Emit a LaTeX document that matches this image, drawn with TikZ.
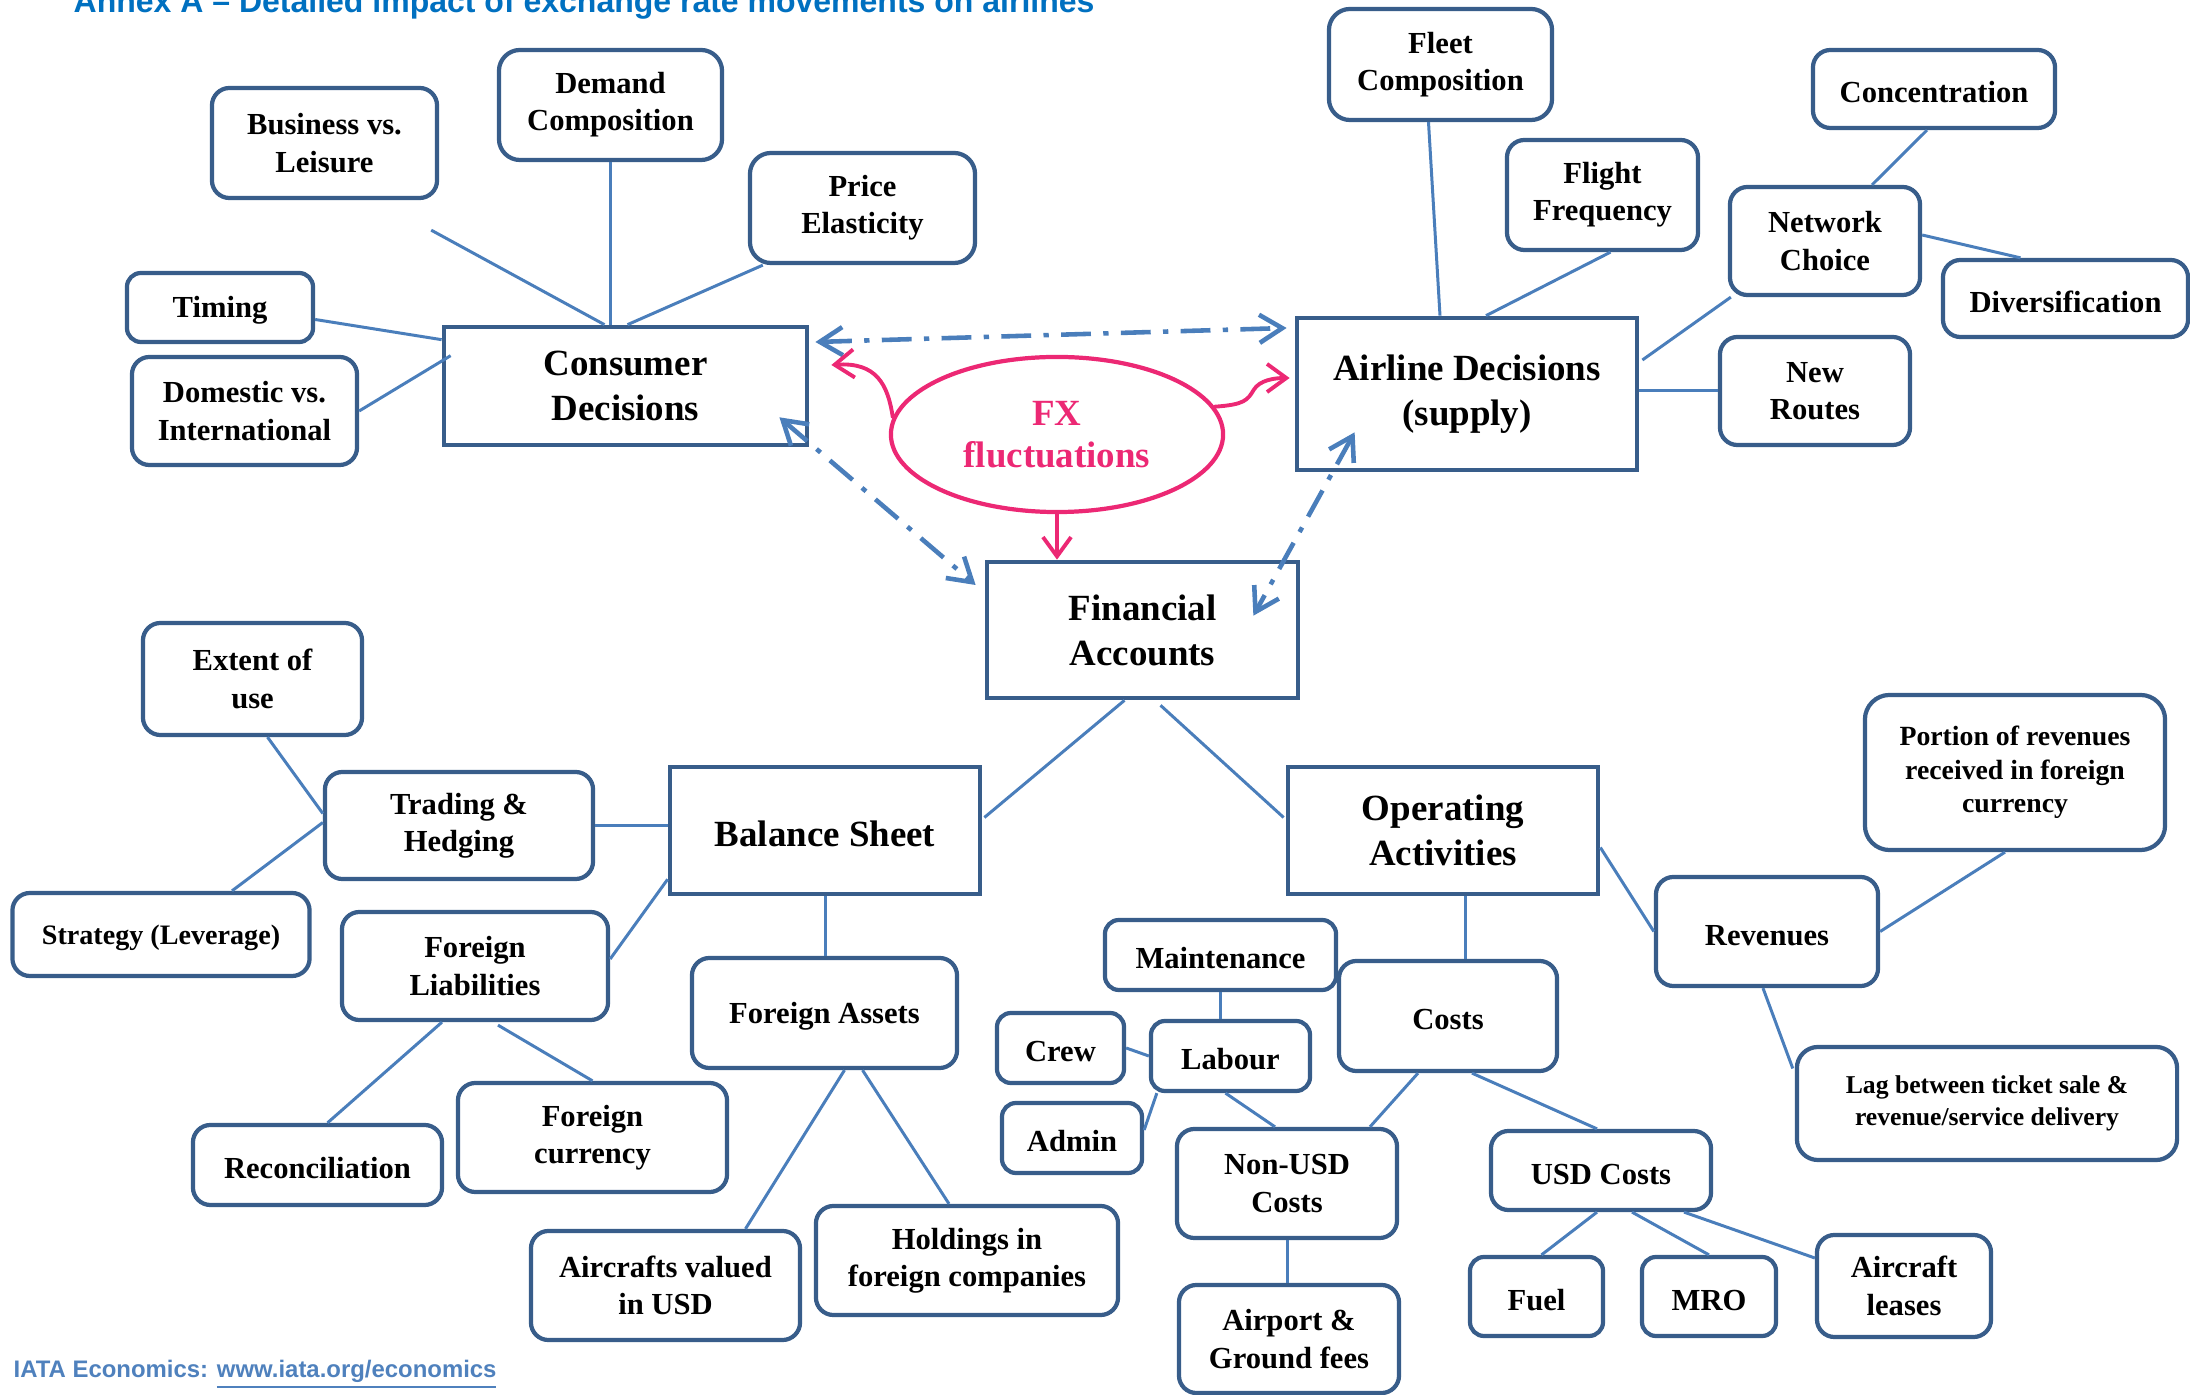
\documentclass[tikz,border=0pt]{standalone}
\usepackage{fontspec}
\setmainfont{Liberation Serif}
\newfontfamily\arialf{Liberation Sans}
\usetikzlibrary{arrows.meta,shapes.geometric,calc}
\definecolor{boxblue}{RGB}{56,93,138}
\definecolor{lineblue}{RGB}{74,126,187}
\definecolor{fxpink}{RGB}{236,40,116}
\definecolor{titleblue}{RGB}{0,112,192}
\definecolor{footblue}{RGB}{79,129,189}
\begin{document}
\begin{tikzpicture}[x=0.01cm,y=-0.01cm,
  sb/.style={draw=boxblue, line width=1.2pt, rounded corners=5pt, fill=white, align=center, inner sep=0pt, font=\fontsize{8.7}{10.6}\selectfont\bfseries, execute at begin node={\rule{0pt}{0.9em}}},
  bb/.style={draw=boxblue, line width=1.3pt, fill=white, align=center, inner sep=0pt, font=\fontsize{10.5}{12.8}\selectfont\bfseries, execute at begin node={\rule{0pt}{0.85em}}},
  conn/.style={draw=lineblue, line width=0.85pt},
  dda/.style={draw=lineblue, line width=1.3pt, dash pattern=on 8.5pt off 3.5pt on 1.5pt off 3.5pt, {Straight Barb[length=6.5pt,width=8pt]}-{Straight Barb[length=6.5pt,width=8pt]}},
  pa/.style={draw=fxpink, line width=1.1pt, line cap=round, -{Straight Barb[length=5.5pt,width=8pt]}}
]
\useasboundingbox (0,0) rectangle (2190,1395);

% title and footer
\node[anchor=base west, inner sep=0pt, text=titleblue, font=\fontsize{9.1}{11}\selectfont\arialf\bfseries] (title) at (73,13) {Annex A – Detailed impact of exchange rate movements on airlines};
\node[anchor=base west, inner sep=0pt, text=footblue, font=\fontsize{6.8}{8}\selectfont\arialf\bfseries] (foot) at (13,1377) {IATA Economics: \underline{www.iata.org/economics}};

% consumer side
\node[sb, minimum width=2.25cm, minimum height=1.10cm] (bus) at (324.5,143) {Business vs.\\Leisure};
\node[sb, minimum width=2.23cm, minimum height=1.10cm, rounded corners=6pt] (dem) at (610.5,105) {Demand\\Composition};
\node[sb, minimum width=2.25cm, minimum height=1.10cm, rounded corners=6pt] (price) at (862.5,208) {Price\\Elasticity};
\node[sb, minimum width=1.86cm, minimum height=0.69cm, rounded corners=4pt] (tim) at (220,307.5) {Timing};
\node[sb, minimum width=2.25cm, minimum height=1.08cm] (dom) at (244.5,411) {Domestic vs.\\International};
\node[bb, minimum width=3.63cm, minimum height=1.18cm] (cons) at (625.5,386) {Consumer\\Decisions};

% airline side
\node[sb, minimum width=2.23cm, minimum height=1.11cm, rounded corners=6pt] (fleet) at (1440.5,64.5) {Fleet\\Composition};
\node[sb, minimum width=1.91cm, minimum height=1.10cm] (flight) at (1602.5,195) {Flight\\Frequency};
\node[sb, minimum width=2.42cm, minimum height=0.78cm] (conc) at (1934,89) {Concentration};
\node[sb, minimum width=1.90cm, minimum height=1.08cm] (net) at (1825,241) {Network\\Choice};
\node[sb, minimum width=2.45cm, minimum height=0.77cm] (div) at (2065.5,298.5) {Diversification};
\node[sb, minimum width=1.90cm, minimum height=1.08cm] (routes) at (1815,391) {New\\Routes};
\node[bb, minimum width=3.40cm, minimum height=1.52cm] (air) at (1467,394) {Airline Decisions\\(supply)};

% FX and financial accounts
\node[ellipse, draw=fxpink, line width=1.2pt, minimum width=3.32cm, minimum height=1.55cm, inner sep=0pt, align=center, text=fxpink, font=\fontsize{10.5}{11.9}\selectfont\bfseries] (fx) at (1057,434.5) {FX\\fluctuations};
\node[bb, minimum width=3.11cm, minimum height=1.36cm] (fin) at (1142.5,630) {Financial\\Accounts};

% balance sheet side
\node[sb, minimum width=2.19cm, minimum height=1.12cm] (ext) at (252.5,679) {Extent of\\use};
\node[sb, minimum width=2.68cm, minimum height=1.07cm] (trade) at (459,825.5) {Trading \&\\Hedging};
\node[sb, minimum width=2.97cm, minimum height=0.83cm, font=\fontsize{8}{10}\selectfont\bfseries] (strat) at (161,934.5) {Strategy (Leverage)};
\node[sb, minimum width=2.66cm, minimum height=1.08cm] (fl) at (475,966) {Foreign\\Liabilities};
\node[bb, minimum width=3.10cm, minimum height=1.27cm] (bal) at (825,830.5) {Balance Sheet};
\node[sb, minimum width=2.65cm, minimum height=1.10cm] (fa) at (824.5,1013) {Foreign Assets};
\node[sb, minimum width=2.49cm, minimum height=0.80cm] (rec) at (317.5,1165) {Reconciliation};
\node[sb, minimum width=2.69cm, minimum height=1.09cm] (fc) at (592.5,1137.5) {Foreign\\currency};
\node[sb, minimum width=2.69cm, minimum height=1.09cm] (acv) at (665.5,1285.5) {Aircrafts valued\\in USD};
\node[sb, minimum width=3.02cm, minimum height=1.09cm] (hold) at (967,1260.5) {Holdings in\\foreign companies};

% operating side
\node[bb, minimum width=3.10cm, minimum height=1.27cm] (op) at (1443,830.5) {Operating\\Activities};
\node[sb, minimum width=2.31cm, minimum height=0.70cm, rounded corners=4pt] (maint) at (1220.5,955) {Maintenance};
\node[sb, minimum width=2.18cm, minimum height=1.10cm] (costs) at (1448,1016) {Costs};
\node[sb, minimum width=1.27cm, minimum height=0.70cm, rounded corners=4pt] (crew) at (1060.5,1048) {Crew};
\node[sb, minimum width=1.59cm, minimum height=0.70cm, rounded corners=4pt] (lab) at (1230.5,1056) {Labour};
\node[sb, minimum width=1.40cm, minimum height=0.70cm, rounded corners=4pt] (admin) at (1072,1138) {Admin};
\node[sb, minimum width=2.20cm, minimum height=1.09cm] (nonusd) at (1287,1183.5) {Non-USD\\Costs};
\node[sb, minimum width=2.20cm, minimum height=0.79cm] (usd) at (1601,1170.5) {USD Costs};
\node[sb, minimum width=2.20cm, minimum height=1.08cm] (airport) at (1289,1339) {Airport \&\\Ground fees};
\node[sb, minimum width=1.33cm, minimum height=0.79cm, rounded corners=4pt] (fuel) at (1536.5,1296.5) {Fuel};
\node[sb, minimum width=1.34cm, minimum height=0.79cm, rounded corners=4pt] (mro) at (1709,1296.5) {MRO};
\node[sb, minimum width=1.74cm, minimum height=1.02cm] (lease) at (1904,1286) {Aircraft\\leases};
\node[sb, minimum width=2.22cm, minimum height=1.09cm] (rev) at (1767,931.5) {Revenues};
\node[sb, minimum width=3.00cm, minimum height=1.55cm, rounded corners=7pt, font=\fontsize{7.9}{9.5}\selectfont\bfseries] (port) at (2015,772.5) {Portion of revenues\\received in foreign\\currency};
\node[sb, minimum width=3.80cm, minimum height=1.13cm, rounded corners=6pt, font=\fontsize{7.3}{9}\selectfont\bfseries] (lag) at (1987,1103.5) {Lag between ticket sale \&\\revenue/service delivery};

% connectors: consumer
\coordinate (busend) at ($(bus.south east)+(-8,30)$);
\draw[conn] (dem.south) -- (dem.south |- cons.north);
\draw[conn] ($(price.south west)+(15,0)$) -- ($(cons.north)+(2,0)$);
\draw[conn] (busend) -- ($(cons.north)+(-21,0)$);
\draw[conn] ($(tim.east)+(0,12)$) -- ($(cons.north west)+(0,15)$);
\draw[conn] (dom.east) -- ($(cons.north west)+(9,31)$);

% connectors: airline
\draw[conn] ($(fleet.south)+(-12,0)$) -- ($(air.north)+(-27,0)$);
\draw[conn] ($(flight.south)+(8,0)$) -- ($(air.north)+(19,0)$);
\draw[conn] ($(conc.south)+(-7,0)$) -- ($(net.north)+(47,0)$);
\draw[conn] ($(net.east)+(0,-6)$) -- ($(div.north)+(-45,0)$);
\draw[conn] ($(net.south west)+(3,0)$) -- ($(air.east)+(3,-34)$);
\draw[conn] (routes.west) -- (routes.west -| air.east);

% connectors: financial
\draw[conn] ($(fin.south)+(-18,0)$) -- ($(bal.east)+(2,-13)$);
\draw[conn] ($(fin.south)+(18,5)$) -- ($(op.west)+(-2,-13)$);

% connectors: balance sheet
\draw[conn] (trade.east) -- (trade.east -| bal.west);
\draw[conn] ($(fl.east)+(0,-7)$) -- ($(bal.south west)+(0,-17)$);
\draw[conn] ($(ext.south)+(15,0)$) -- ($(trade.west)+(0,-12)$);
\draw[conn] ($(strat.north)+(71,0)$) -- ($(trade.west)+(0,-3)$);
\draw[conn] (bal.south) -- (bal.south |- fa.north);
\draw[conn] ($(fl.south)+(-33,0)$) -- ($(rec.north)+(10,0)$);
\draw[conn] ($(fl.south)+(23,3)$) -- (fc.north);
\draw[conn] ($(fa.south)+(20,0)$) -- ($(acv.north)+(80,0)$);
\draw[conn] ($(fa.south)+(38,0)$) -- ($(hold.north)+(-18,0)$);

% connectors: operating
\draw[conn] ($(op.south)+(22,0)$) -- ($(costs.north)+(17,0)$);
\draw[conn] ($(op.east)+(0,17)$) -- (rev.west);
\draw[conn] (rev.east) -- ($(port.south)+(-10,0)$);
\draw[conn] ($(rev.south)+(-4,0)$) -- ($(lag.west)+(-2,-35)$);
\draw[conn] (maint.south) -- (maint.south |- lab.north);
\draw[conn] (crew.east) -- (lab.west);
\draw[conn] ($(admin.east)+(0,-8)$) -- ($(lab.south west)+(8,0)$);
\draw[conn] ($(lab.south)+(-5,0)$) -- ($(nonusd.north)+(-12,0)$);
\draw[conn] ($(costs.south)+(-30,0)$) -- ($(nonusd.north)+(83,0)$);
\draw[conn] ($(costs.south)+(24,0)$) -- ($(usd.north)+(-4,0)$);
\draw[conn] (nonusd.south) -- (nonusd.south |- airport.north);
\draw[conn] ($(usd.south)+(-4,0)$) -- ($(fuel.north)+(5,0)$);
\draw[conn] ($(usd.south)+(31,0)$) -- (mro.north);
\draw[conn] ($(usd.south)+(83,0)$) -- ($(lease.west)+(0,-28)$);

% dash-dot double arrows
\draw[dda] ($(cons.east)+(6,-44)$) -- ($(air.west)+(-8,-66)$);
\draw[dda] ($(cons.south east)+(-30,-30)$) -- ($(fin.west)+(-9,-45)$);
\draw[dda] ($(air.south west)+(60,-40)$) -- ($(fin.north east)+(-47,56)$);

% FX arrows
\coordinate (fxmid) at ($(air.west)+(-41,-4)$);
\draw[pa] (fx.174) .. controls +(-5,-33) and +(45,-3) .. ($(cons.east)+(22,-21)$);
\draw[pa] (fx.10) .. controls +(30,-2) and +(-6,10) .. (fxmid) .. controls +(6,-10) and +(-15,0) .. ($(air.west)+(-5,-16)$);
\draw[pa] (fx.south) -- (fx.south |- fin.north);
\end{tikzpicture}
\end{document}
